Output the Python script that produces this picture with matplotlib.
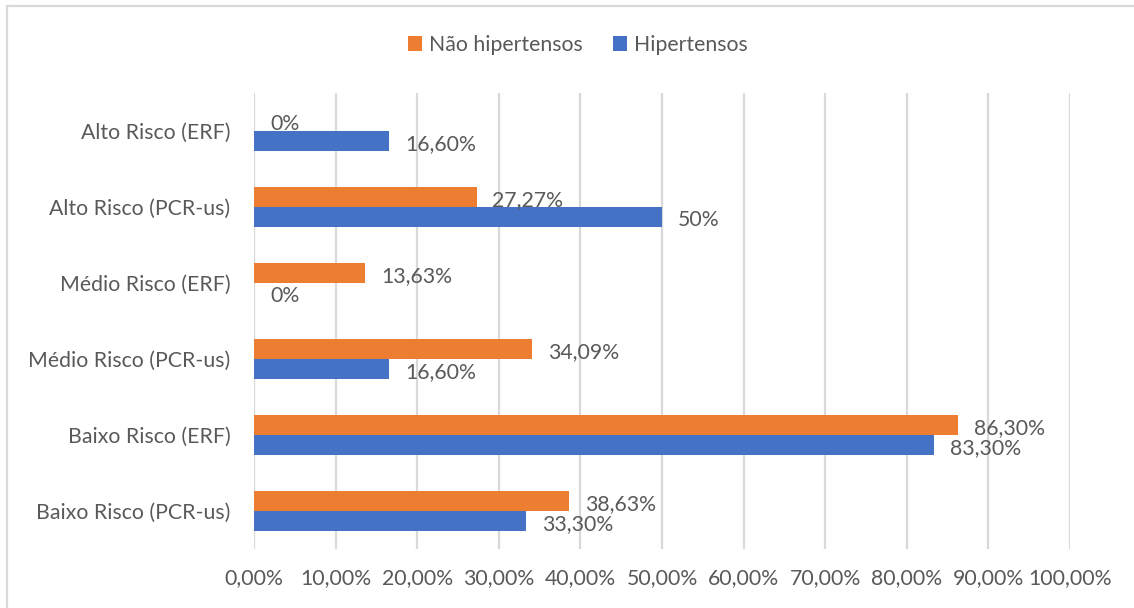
import matplotlib
matplotlib.use("Agg")
import matplotlib.pyplot as plt
from matplotlib.patches import Rectangle, Patch
import numpy as np

categories = ["Baixo Risco (PCR-us)", "Baixo Risco (ERF)", "Médio Risco (PCR-us)",
              "Médio Risco (ERF)", "Alto Risco (PCR-us)", "Alto Risco (ERF)"]
nao_hipertensos = [38.63, 86.30, 34.09, 13.63, 27.27, 0.0]
hipertensos = [33.30, 83.30, 16.60, 0.0, 50.0, 16.60]
labels_nao = ["38,63%", "86,30%", "34,09%", "13,63%", "27,27%", "0%"]
labels_hip = ["33,30%", "83,30%", "16,60%", "0%", "50%", "16,60%"]
xticks = [0, 10, 20, 30, 40, 50, 60, 70, 80, 90, 100]
xtick_labels = ["0,00%", "10,00%", "20,00%", "30,00%", "40,00%", "50,00%",
                "60,00%", "70,00%", "80,00%", "90,00%", "100,00%"]

ORANGE = "#ED7D31"
BLUE = "#4472C4"
TXT = "#595959"
GRID = "#D9D9D9"

plt.rcParams['font.family'] = ['Lato', 'DejaVu Sans']
FS = 15.3

W, H = 1134, 608
fig = plt.figure(figsize=(W / 100, H / 100), dpi=100)
ax = fig.add_axes([254 / W, 1 - 549 / H, (1070 - 254) / W, (549 - 93) / H])

y = np.arange(len(categories))
bh = 0.263
ax.barh(y + bh / 2, nao_hipertensos, height=bh, color=ORANGE, zorder=3)
ax.barh(y - bh / 2, hipertensos, height=bh, color=BLUE, zorder=3)

for yi, v, lab in zip(y, nao_hipertensos, labels_nao):
    ax.annotate(lab, (v, yi + bh / 2), xytext=(11.5, -2.5), textcoords="offset points",
                ha="left", va="center", color=TXT, fontsize=FS, zorder=4)
for yi, v, lab in zip(y, hipertensos, labels_hip):
    ax.annotate(lab, (v, yi - bh / 2), xytext=(11.5, -2.5), textcoords="offset points",
                ha="left", va="center", color=TXT, fontsize=FS, zorder=4)

ax.set_xlim(0, 100)
ax.set_ylim(-0.5, len(categories) - 0.5)
ax.set_xticks(xticks)
ax.set_xticklabels(xtick_labels)
ax.set_yticks(y)
ax.set_yticklabels(categories)
ax.tick_params(axis="both", length=0, labelsize=FS, colors=TXT)
ax.tick_params(axis="x", pad=14)
ax.tick_params(axis="y", pad=17)
for s in ax.spines.values():
    s.set_visible(False)
ax.xaxis.grid(True, color=GRID, linewidth=1.6, zorder=0)
ax.set_axisbelow(True)

handles = [Patch(facecolor=ORANGE, label="Não hipertensos"),
           Patch(facecolor=BLUE, label="Hipertensos")]
fig.legend(handles=handles, loc="center", bbox_to_anchor=(578 / W, 1 - 45 / H), ncol=2,
           frameon=False, fontsize=FS, labelcolor=TXT, handlelength=0.65, handleheight=0.65,
           handletextpad=0.35, columnspacing=1.4)

fig.patches.append(Rectangle((6.5 / W, -0.2), 1.2, 1.2 - 5.5 / H, transform=fig.transFigure,
                             facecolor="none", edgecolor=GRID, linewidth=1.6))

fig.savefig("out.png", dpi=100)
